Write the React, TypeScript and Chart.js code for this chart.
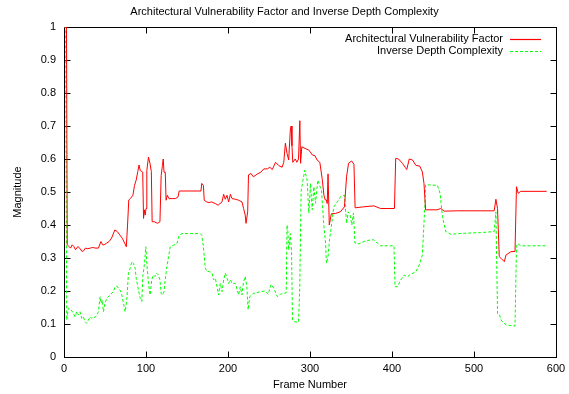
import React, { useEffect, useRef } from 'react';
import { Chart, registerables } from 'chart.js';

Chart.register(...registerables);

const TITLE = 'Architectural Vulnerability Factor and Inverse Depth Complexity';
const X_TITLE = 'Frame Number';
const Y_TITLE = 'Magnitude';
const SERIES_NAMES = ['Architectural Vulnerability Factor', 'Inverse Depth Complexity'];
const SERIES_COLORS = ['#ff0000', '#00ff00'];
const X_TICKS = [0, 100, 200, 300, 400, 500, 600];
const Y_TICKS = [0, 0.1, 0.2, 0.3, 0.4, 0.5, 0.6, 0.7, 0.8, 0.9, 1];

const avfFrames = [0, 3, 4, 6, 8, 10, 12, 14, 17, 19, 22, 24, 26, 29, 32, 35, 38, 42, 45, 47, 49, 52, 55, 58, 62, 65, 68, 71, 74, 76, 77.5, 79, 81, 84, 86, 88, 90, 91.5, 93, 95, 96, 97, 98, 99, 100, 101, 103, 105, 106.5, 107.5, 110, 114, 117, 118.5, 120, 121, 122, 123.5, 124.5, 126, 128, 132, 136, 139, 140.5, 150, 160, 167, 168, 170, 171, 174, 177, 180, 184.5, 188, 192.7, 194.7, 196.7, 198.8, 200.8, 202.9, 204.9, 209, 213, 217, 219, 221, 222, 224, 225, 228, 231, 236, 240, 243.6, 248, 251, 254, 258, 262, 266, 268, 270, 272, 274, 276, 277, 278, 279, 282, 284, 286, 287.6, 288.5, 290, 294, 298.6, 303, 306, 308.7, 312, 315, 317, 318.6, 320, 321, 322, 323.5, 326, 331, 337, 342, 344.6, 347, 350.7, 353.6, 355, 365, 378, 386, 395, 403, 404.5, 408, 412.7, 416, 418, 421, 425, 429, 434, 437, 439, 441, 455, 459.5, 463.5, 480, 500, 524.6, 526.7, 528.7, 530.8, 533, 537, 539, 545, 550, 551.8, 553.9, 557, 588.6];
const avfValues = [1.0, 1.0, 0.34, 0.335, 0.33, 0.34, 0.335, 0.325, 0.335, 0.33, 0.32, 0.322, 0.33, 0.328, 0.33, 0.332, 0.33, 0.33, 0.35, 0.34, 0.34, 0.345, 0.35, 0.36, 0.385, 0.38, 0.37, 0.36, 0.345, 0.334, 0.4, 0.476, 0.48, 0.49, 0.52, 0.536, 0.562, 0.582, 0.565, 0.562, 0.56, 0.42, 0.446, 0.43, 0.45, 0.565, 0.606, 0.585, 0.562, 0.41, 0.41, 0.405, 0.41, 0.55, 0.58, 0.6, 0.56, 0.56, 0.475, 0.49, 0.48, 0.48, 0.48, 0.485, 0.503, 0.503, 0.503, 0.503, 0.526, 0.52, 0.475, 0.47, 0.468, 0.47, 0.465, 0.46, 0.47, 0.493, 0.478, 0.49, 0.47, 0.493, 0.48, 0.478, 0.475, 0.47, 0.45, 0.43, 0.405, 0.44, 0.552, 0.556, 0.546, 0.555, 0.56, 0.57, 0.57, 0.575, 0.568, 0.59, 0.58, 0.575, 0.59, 0.648, 0.617, 0.597, 0.688, 0.7, 0.64, 0.59, 0.6, 0.59, 0.6, 0.716, 0.587, 0.637, 0.632, 0.627, 0.612, 0.61, 0.597, 0.59, 0.537, 0.49, 0.476, 0.476, 0.465, 0.555, 0.4, 0.434, 0.435, 0.44, 0.455, 0.546, 0.587, 0.594, 0.584, 0.452, 0.455, 0.458, 0.45, 0.45, 0.45, 0.602, 0.6, 0.587, 0.575, 0.568, 0.6, 0.597, 0.581, 0.578, 0.561, 0.526, 0.446, 0.446, 0.45, 0.442, 0.443, 0.443, 0.443, 0.478, 0.45, 0.304, 0.299, 0.289, 0.309, 0.319, 0.32, 0.516, 0.496, 0.502, 0.502];

const idcFrames = [0, 2, 3.3, 5.3, 8.6, 11.4, 13.4, 15.5, 17.5, 19.6, 21.6, 23.6, 25.7, 27.7, 29.7, 31.8, 33.8, 35.8, 37.9, 39.9, 42, 44, 45.2, 46.8, 48, 50.1, 52.1, 56.2, 60.3, 62.3, 64.4, 66.4, 68.4, 70.5, 72.5, 74.5, 76.6, 78.6, 80.7, 82.7, 84.7, 86.8, 88, 90, 92.9, 94.9, 96.1, 98.2, 99.8, 101, 103, 105, 107, 109, 111, 113, 115, 117, 118.5, 120, 122, 123.4, 125.5, 127.5, 129.5, 133.6, 137.7, 140.5, 143.8, 166, 168, 170, 172.3, 174.3, 177, 180.5, 182.5, 184.5, 186.6, 188.6, 190.6, 192.7, 194.7, 196.7, 198.8, 200.8, 202.9, 204.9, 209, 213, 215, 217, 219, 221, 223, 224.5, 226.5, 229, 231, 233, 239, 245, 249, 252.6, 256, 260, 264, 268, 271, 272, 273, 274, 276, 277.5, 278.6, 282, 286, 287.5, 289.2, 291.5, 293.6, 296.5, 298.6, 300.6, 302.7, 304.7, 306.7, 309.6, 311.6, 314, 317, 319, 320, 322, 323.8, 326, 329, 333.3, 337.4, 342, 344.6, 346.6, 349, 351, 353, 354.8, 359.7, 365.8, 374, 378, 382, 386, 402.4, 403.7, 406.5, 410.6, 414.7, 418.8, 422.8, 429, 433, 437, 440, 441, 455.4, 458.7, 461.5, 465.6, 471.7, 488, 508, 524.6, 526.7, 528.7, 530.8, 533, 539, 550, 551.8, 553, 557, 588.6];
const idcValues = [1.0, 1.0, 0.112, 0.148, 0.143, 0.133, 0.122, 0.137, 0.127, 0.137, 0.117, 0.122, 0.107, 0.102, 0.112, 0.122, 0.117, 0.122, 0.12, 0.127, 0.137, 0.183, 0.163, 0.173, 0.137, 0.163, 0.178, 0.188, 0.198, 0.213, 0.215, 0.208, 0.203, 0.188, 0.163, 0.137, 0.173, 0.254, 0.269, 0.289, 0.284, 0.269, 0.239, 0.213, 0.178, 0.168, 0.244, 0.284, 0.334, 0.284, 0.223, 0.188, 0.234, 0.249, 0.244, 0.254, 0.249, 0.234, 0.193, 0.188, 0.198, 0.234, 0.274, 0.304, 0.334, 0.339, 0.344, 0.369, 0.374, 0.374, 0.369, 0.334, 0.269, 0.259, 0.259, 0.254, 0.234, 0.239, 0.213, 0.188, 0.223, 0.198, 0.234, 0.254, 0.239, 0.223, 0.234, 0.223, 0.223, 0.188, 0.213, 0.188, 0.228, 0.244, 0.213, 0.143, 0.183, 0.188, 0.193, 0.193, 0.198, 0.2, 0.19, 0.22, 0.208, 0.183, 0.19, 0.193, 0.195, 0.4, 0.38, 0.324, 0.374, 0.32, 0.112, 0.106, 0.106, 0.21, 0.503, 0.536, 0.566, 0.536, 0.436, 0.526, 0.446, 0.516, 0.466, 0.536, 0.52, 0.506, 0.395, 0.345, 0.284, 0.304, 0.355, 0.395, 0.455, 0.47, 0.486, 0.49, 0.405, 0.44, 0.43, 0.4, 0.436, 0.345, 0.343, 0.35, 0.355, 0.355, 0.345, 0.337, 0.337, 0.213, 0.213, 0.233, 0.248, 0.243, 0.251, 0.258, 0.278, 0.309, 0.455, 0.522, 0.52, 0.495, 0.425, 0.38, 0.372, 0.375, 0.377, 0.38, 0.44, 0.132, 0.13, 0.112, 0.097, 0.094, 0.334, 0.344, 0.337, 0.337];

const FONT = '"Liberation Sans", Arial, Helvetica, sans-serif';
const DASH = [3, 2];

const toPoints = (xs: number[], ys: number[]) => xs.map((x, i) => ({ x, y: ys[i] }));

const gnuplotFrame = {
  id: 'gnuplotFrame',
  beforeDatasetsDraw(chart: any) {
    const { ctx, chartArea } = chart;
    const { left, right, top, bottom } = chartArea;
    const xs = chart.scales.x;
    const ys = chart.scales.y;
    const L = Math.round(left) + 0.5;
    const R = Math.round(right) + 0.5;
    const T = Math.round(top) + 0.5;
    const B = Math.round(bottom) + 0.5;
    const tick = 6;
    ctx.save();
    ctx.strokeStyle = '#000';
    ctx.lineWidth = 1;
    ctx.beginPath();
    X_TICKS.forEach((v) => {
      const px = Math.round(xs.getPixelForValue(v)) + 0.5;
      ctx.moveTo(px, B);
      ctx.lineTo(px, B - tick);
      ctx.moveTo(px, T);
      ctx.lineTo(px, T + tick);
    });
    Y_TICKS.forEach((v) => {
      const py = Math.round(ys.getPixelForValue(v)) + 0.5;
      ctx.moveTo(L, py);
      ctx.lineTo(L + tick, py);
      ctx.moveTo(R, py);
      ctx.lineTo(R - tick, py);
    });
    ctx.stroke();
    ctx.strokeRect(L, T, R - L, B - T);
    ctx.restore();
  },
  afterDatasetsDraw(chart: any) {
    const { ctx, chartArea } = chart;
    const textRight = chartArea.right - 53;
    const lineStart = chartArea.right - 46;
    const lineEnd = chartArea.right - 15;
    ctx.save();
    ctx.font = `11px ${FONT}`;
    ctx.textAlign = 'right';
    ctx.textBaseline = 'middle';
    SERIES_NAMES.forEach((name, i) => {
      const y = chartArea.top + 11.5 + i * 12;
      ctx.fillStyle = '#000';
      ctx.fillText(name, textRight, y);
      ctx.strokeStyle = SERIES_COLORS[i];
      ctx.lineWidth = 1.2;
      ctx.setLineDash(i === 1 ? DASH : []);
      ctx.beginPath();
      ctx.moveTo(lineStart, Math.round(y) + 0.5);
      ctx.lineTo(lineEnd, Math.round(y) + 0.5);
      ctx.stroke();
    });
    ctx.restore();
  },
};

export default function App() {
  const canvasRef = useRef<HTMLCanvasElement | null>(null);

  useEffect(() => {
    const canvas = canvasRef.current;
    if (!canvas) return;
    Chart.defaults.font.family = FONT;
    const chart = new Chart(canvas, {
      type: 'line',
      data: {
        datasets: [
          {
            label: SERIES_NAMES[0],
            data: toPoints(avfFrames, avfValues),
            borderColor: SERIES_COLORS[0],
            backgroundColor: SERIES_COLORS[0],
            borderWidth: 1,
            pointRadius: 0,
            tension: 0,
            fill: false,
          },
          {
            label: SERIES_NAMES[1],
            data: toPoints(idcFrames, idcValues),
            borderColor: SERIES_COLORS[1],
            backgroundColor: SERIES_COLORS[1],
            borderWidth: 1,
            borderDash: DASH,
            pointRadius: 0,
            tension: 0,
            fill: false,
          },
        ],
      },
      plugins: [gnuplotFrame],
      options: {
        responsive: false,
        animation: false,
        devicePixelRatio: 1,
        layout: { padding: { left: 0, right: 0, top: 0, bottom: 0 } },
        plugins: {
          legend: { display: false },
          tooltip: { enabled: false },
          title: {
            display: true,
            text: TITLE,
            color: '#000',
            font: { size: 11, weight: 'normal', family: FONT, lineHeight: 1.2 },
            padding: { top: 5, bottom: 8.8 },
          },
        },
        scales: {
          x: {
            type: 'linear',
            min: 0,
            max: 600,
            afterBuildTicks: (scale: any) => {
              scale.ticks = X_TICKS.map((value) => ({ value }));
            },
            ticks: {
              color: '#000',
              font: { size: 11, family: FONT },
              padding: 5,
              maxRotation: 0,
              autoSkip: false,
              callback: (v: any) => String(v),
            },
            grid: { display: false, drawTicks: false },
            border: { display: false },
            title: {
              display: true,
              text: X_TITLE,
              color: '#000',
              font: { size: 11, family: FONT, lineHeight: 1.2 },
              padding: { top: 0, bottom: 2.4 },
            },
            afterFit: (scale: any) => {
              scale.height = 37;
              scale.paddingLeft = 0;
              scale.paddingRight = 13;
            },
          },
          y: {
            type: 'linear',
            min: 0,
            max: 1,
            afterBuildTicks: (scale: any) => {
              scale.ticks = Y_TICKS.map((value) => ({ value }));
            },
            ticks: {
              color: '#000',
              font: { size: 11, family: FONT },
              padding: 8,
              autoSkip: false,
              callback: (v: any) => String(Math.round(Number(v) * 10) / 10),
            },
            grid: { display: false, drawTicks: false },
            border: { display: false },
            title: {
              display: true,
              text: Y_TITLE,
              color: '#000',
              font: { size: 11, family: FONT, lineHeight: 1.2 },
              padding: { top: 11.4, bottom: 0 },
            },
            afterFit: (scale: any) => {
              scale.width = 64;
              scale.paddingTop = 0;
              scale.paddingBottom = 0;
            },
          },
        },
      },
    } as any);
    return () => chart.destroy();
  }, []);

  return (
    <div style={{ position: 'fixed', left: 0, top: 0, width: 569, height: 394, background: '#fff' }}>
      <canvas ref={canvasRef} width={569} height={394} style={{ display: 'block', width: 569, height: 394 }} />
    </div>
  );
}
